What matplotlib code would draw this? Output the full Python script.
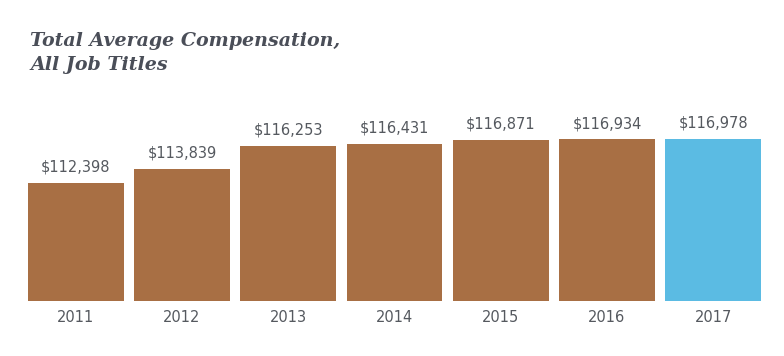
import matplotlib
matplotlib.use("Agg")
import matplotlib.pyplot as plt

years = ["2011", "2012", "2013", "2014", "2015", "2016", "2017"]
values = [112398, 113839, 116253, 116431, 116871, 116934, 116978]
colors = ["#A86F44"] * 6 + ["#5BBBE3"]

W, H = 784, 356
fig = plt.figure(figsize=(W / 100, H / 100), dpi=100)
left, right, bottom, top = 28, 761, 301, 100
ax = fig.add_axes([left / W, 1 - bottom / H, (right - left) / W, (bottom - top) / H])

x = range(len(years))
ax.bar(x, values, width=0.9, color=colors, bottom=0)
ax.set_xlim(-0.45, len(years) - 0.55)
ax.set_ylim(100000, 121065)
for s in ax.spines.values():
    s.set_visible(False)
ax.set_yticks([])
ax.set_xticks(list(x))
ax.set_xticklabels(years, fontfamily="DejaVu Sans", fontsize=10.5, color="#55595f")
ax.tick_params(axis="x", length=0, pad=6.5)

for i, v in enumerate(values):
    ax.annotate(f"${v:,}", (i, v), xytext=(0, 6), textcoords="offset points",
                ha="center", va="bottom", fontfamily="DejaVu Sans", fontsize=10.5,
                color="#55595f")

fig.text(30 / W, 1 - 46 / H, "Total Average Compensation,",
         fontfamily="DejaVu Serif", fontweight="bold", fontstyle="italic",
         fontsize=13.7, color="#4a4e58", va="baseline", ha="left")
fig.text(30 / W, 1 - 70 / H, "All Job Titles",
         fontfamily="DejaVu Serif", fontweight="bold", fontstyle="italic",
         fontsize=13.7, color="#4a4e58", va="baseline", ha="left")

fig.savefig("out.png", dpi=100)
